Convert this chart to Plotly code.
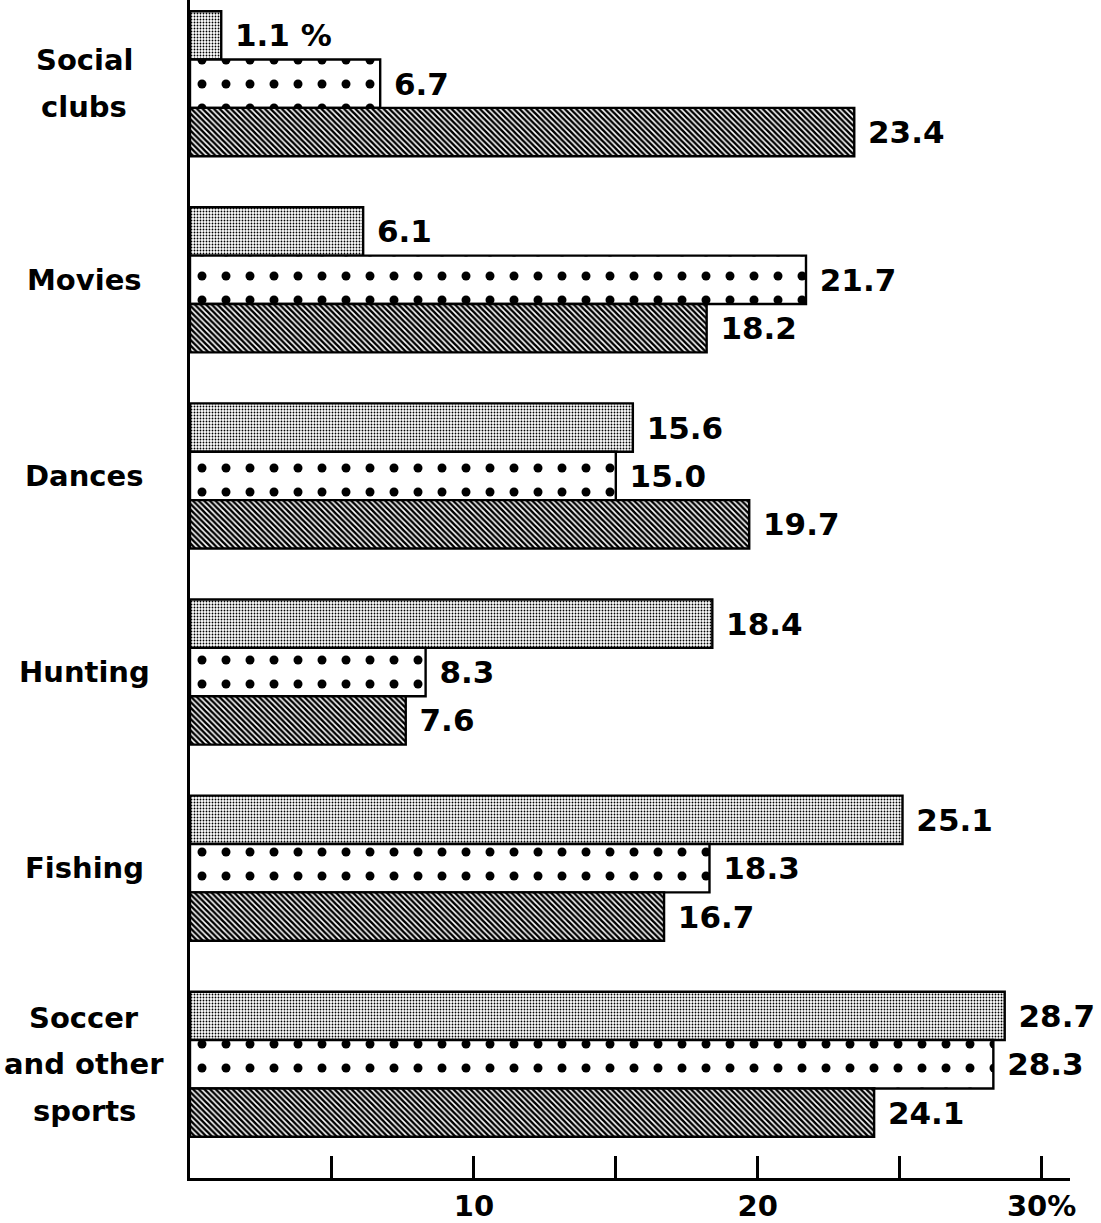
import plotly.graph_objects as go

categories = ["Social clubs", "Movies", "Dances", "Hunting", "Fishing", "Soccer and other sports"]
category_lines = [["Social", "clubs"], ["Movies"], ["Dances"], ["Hunting"], ["Fishing"],
                  ["Soccer", "and other", "sports"]]
series_a = [1.1, 6.1, 15.6, 18.4, 25.1, 28.7]   # fine stipple
series_b = [6.7, 21.7, 15.0, 8.3, 18.3, 28.3]   # large dots
series_c = [23.4, 18.2, 19.7, 7.6, 16.7, 24.1]  # hatched
labels_a = ["1.1 %", "6.1", "15.6", "18.4", "25.1", "28.7"]
labels_b = ["6.7", "21.7", "15.0", "8.3", "18.3", "28.3"]
labels_c = ["23.4", "18.2", "19.7", "7.6", "16.7", "24.1"]
tick_vals = [5, 10, 15, 20, 25, 30]
tick_text = ["", "10", "", "20", "", "30%"]

FONT = "DejaVu Sans"
W, H = 1101, 1223
ML, MR, MT, MB = 190, 31, 0, 38
LINE_STEP = 46.5

def bar(vals, labels, pattern):
    return go.Bar(
        y=categories, x=vals, orientation="h",
        text=[" " + t for t in labels], textposition="outside",
        textfont=dict(family=FONT, size=31, color="black", weight="bold"),
        constraintext="none", cliponaxis=False,
        marker=dict(color="white", line=dict(color="black", width=2.4), pattern=pattern),
        showlegend=False, hoverinfo="skip",
    )

fig = go.Figure()
fig.add_trace(bar(series_a, labels_a, dict(shape=".", fgcolor="black", bgcolor="white", fgopacity=1, size=3, solidity=0.3)))
fig.add_trace(bar(series_b, labels_b, dict(shape=".", fgcolor="black", bgcolor="white", fgopacity=1, size=24, solidity=0.11)))
fig.add_trace(bar(series_c, labels_c, dict(shape="\\", fgcolor="black", bgcolor="white", fgopacity=1, size=4, solidity=0.62)))

for cat, lines in zip(categories, category_lines):
    n = len(lines)
    for i, line in enumerate(lines):
        fig.add_annotation(
            x=-0.12, xref="paper", y=cat, yref="y", text=line, showarrow=False,
            xanchor="center", yanchor="middle", align="center",
            yshift=((n - 1) / 2 - i) * LINE_STEP,
            font=dict(family=FONT, size=29, color="black", weight="bold"),
        )

fig.update_layout(
    width=W, height=H,
    margin=dict(l=ML, r=MR, t=MT, b=MB),
    paper_bgcolor="white", plot_bgcolor="white",
    barmode="group", bargap=0.26, bargroupgap=0,
    xaxis=dict(
        range=[0, 31], tickvals=tick_vals, ticktext=tick_text,
        ticks="inside", ticklen=22, tickwidth=2.5, tickcolor="black",
        showline=True, linecolor="black", linewidth=3,
        showgrid=False, zeroline=False,
        tickfont=dict(family=FONT, size=29, color="black", weight="bold"),
    ),
    yaxis=dict(
        type="category", range=[5.58, -0.427],
        showticklabels=False, ticks="",
        showline=True, linecolor="black", linewidth=3,
        showgrid=False, zeroline=False,
    ),
)

fig.write_html("out.html", config={"displayModeBar": False},
               post_script="document.body.style.margin='0';document.body.style.overflow='hidden';")
